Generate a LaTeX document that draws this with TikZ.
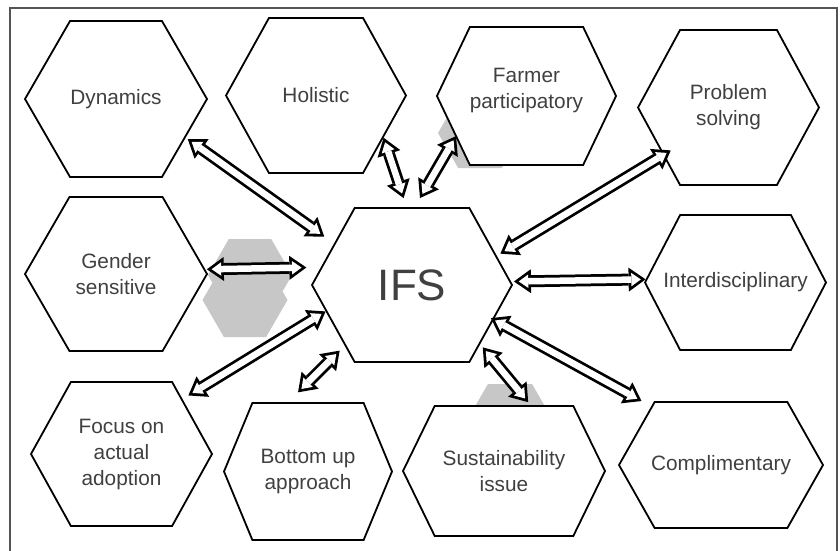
\documentclass[tikz,border=0pt]{standalone}
\usepackage{fontspec}
\setmainfont{Liberation Sans}
\usetikzlibrary{shapes.symbols, arrows.meta}

\definecolor{txtgray}{gray}{0.25}
\definecolor{shadegray}{gray}{0.78}
\definecolor{framegray}{gray}{0.33}

\tikzset{
  hexa/.style = {shape=signal, signal to=east and west, signal pointer angle=120,
    draw, line width=1.8pt, fill=white, inner sep=0pt, align=center,
    text=txtgray, font=\fontsize{20.8}{26}\selectfont},
  shadehex/.style = {shape=signal, signal to=east and west, signal pointer angle=120,
    fill=shadegray, inner sep=0pt},
  outtip/.tip = {Triangle[length=17pt, width=24pt, line width=0pt]},
  intip/.tip = {Triangle[length=9.5pt, width=13.4pt, line width=0pt]},
  link/.style 2 args = {draw=black, line width=12pt, outtip-outtip,
    shorten <=#1, shorten >=#2,
    postaction={draw=white, line width=6.5pt, intip-intip,
      shorten <=#1+4.8pt, shorten >=#2+4.8pt}},
}

\begin{document}
\begin{tikzpicture}[x=1pt, y=-1pt]
  \useasboundingbox (0,0) rectangle (840,551);
  % frame, open at the bottom
  \draw [framegray, line width=2pt] (9.5,560) |- (836.5,8.5) -- (836.5,560);

  % grey hexagons behind
  \node (shgenA) [shadehex, minimum width=84pt, minimum height=72pt] at (250,275) {};
  \node (shgenB) [shadehex, minimum width=85pt, minimum height=74pt] at (245,300) {};
  \node (shfar) [shadehex, minimum width=84pt, minimum height=70pt] at (480,133) {};
  \node (shsus) [shadehex, minimum width=88pt, minimum height=76pt] at (510,422) {};

  % hexagons
  \node (dyn) [hexa, minimum width=182pt, minimum height=156pt] at (116,99) {Dynamics};
  \node (hol) [hexa, minimum width=180pt, minimum height=155pt, signal pointer angle=122] at (316,95.5) {Holistic};
  \node (far) [hexa, minimum width=179pt, minimum height=138pt, signal pointer angle=129] at (526.5,96) {Farmer\\participatory\\[-11pt]\mbox{}};
  \node (prob) [hexa, minimum width=181pt, minimum height=155pt, signal pointer angle=123] at (728.5,107.5) {Problem\\solving};
  \node (ifs) [hexa, minimum width=200pt, minimum height=154pt, signal pointer angle=122, font=\fontsize{44}{50}\selectfont] at (412,285) {IFS};
  \node (gen) [hexa, minimum width=182pt, minimum height=154pt] at (116,274) {Gender\\sensitive};
  \node (inter) [hexa, minimum width=181pt, minimum height=135pt, signal pointer angle=125] at (735.5,282.5) {\makebox[90pt]{Interdisciplinary}};
  \node (foc) [hexa, minimum width=181pt, minimum height=144pt, signal pointer angle=122] at (121.5,454) {Focus on\\actual\\adoption};
  \node (bot) [hexa, minimum width=168pt, minimum height=137pt, signal pointer angle=135] at (308,471.5) {Bottom up\\approach};
  \node (sus) [hexa, minimum width=202pt, minimum height=130pt, signal pointer angle=128] at (504,471) {Sustainability\\issue};
  \node (com) [hexa, minimum width=204pt, minimum height=126pt, signal pointer angle=121] at (721,465) {\makebox[100pt]{Complimentary}};

  % links to IFS
  \draw [link={2.5pt}{11.9pt}] (dyn.-29.2) -- (ifs.152);
  \draw [link={0pt}{9.5pt}] (hol.-32.9) -- (ifs.94.4);
  \draw [link={-1pt}{10.5pt}] (far.210.2) -- (ifs.88.8);
  \draw [link={1.5pt}{14.4pt}] (gen.3.9) -- (ifs.169.4);
  \draw [link={4.1pt}{-9.2pt}] (ifs.19.7) -- (prob.216.8);
  \draw [link={2.8pt}{0pt}] (ifs.2.9) -- (inter.178.4);
  \draw [link={6.8pt}{0pt}] (foc.42.9) -- (ifs.197.6);
  \draw [link={14pt}{7pt}] (bot.106) -- (ifs.222);
  \draw [link={3.8pt}{4pt}] (sus.68.7) -- (ifs.-41.1);
  \draw [link={-3.3pt}{10.9pt}] (ifs.-23.2) -- (com.140.3);
\end{tikzpicture}
\end{document}
